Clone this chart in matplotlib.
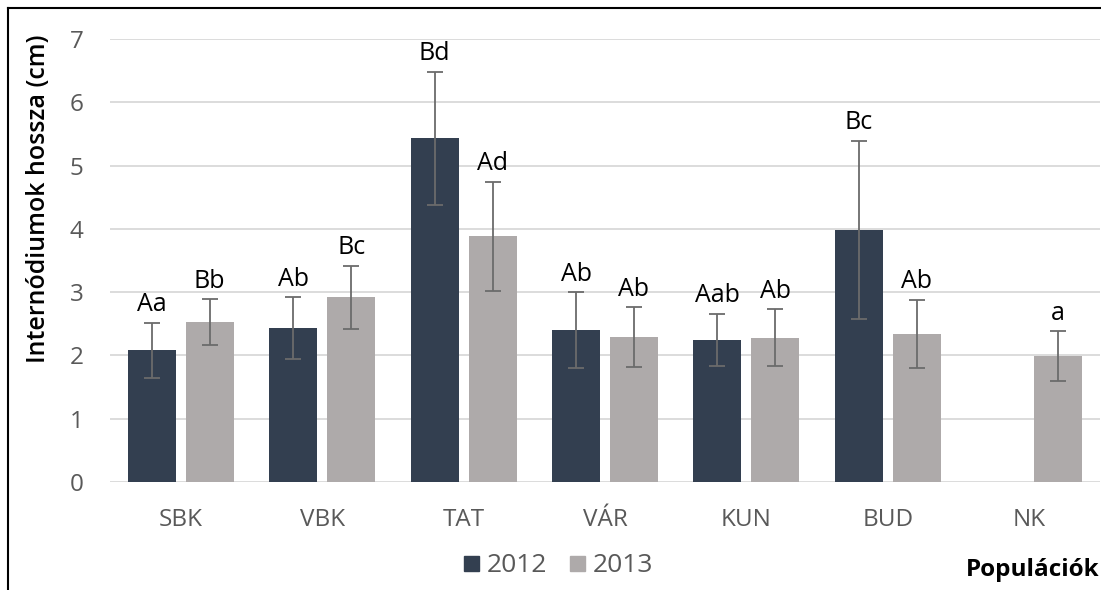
import numpy as np
import matplotlib.pyplot as plt
from matplotlib.lines import Line2D

# Data
populations = ['SBK', 'VBK', 'TAT', 'VÁR', 'KUN', 'BUD', 'NK']
mean_2012 = [2.08, 2.43, 5.43, 2.40, 2.25, 3.98, np.nan]
err_2012 = [0.44, 0.49, 1.05, 0.60, 0.41, 1.41, np.nan]
label_2012 = ['Aa', 'Ab', 'Bd', 'Ab', 'Aab', 'Bc', '']
mean_2013 = [2.53, 2.92, 3.88, 2.29, 2.28, 2.34, 1.99]
err_2013 = [0.36, 0.50, 0.86, 0.47, 0.45, 0.54, 0.39]
label_2013 = ['Bb', 'Bc', 'Ad', 'Ab', 'Ab', 'Ab', 'a']

C2012 = '#333f50'
C2013 = '#aeaaaa'
FONT = 'Open Sans'

plt.rcParams['font.family'] = [FONT, 'DejaVu Sans']

fig = plt.figure(figsize=(11.01, 5.9), dpi=100)
ax = fig.add_axes([110 / 1101, 1 - 482 / 590, 990 / 1101, (482 - 39) / 590])

x = np.arange(len(populations))
w = 0.34
off = 0.205

err_kw = dict(ecolor='#6b6b6b', elinewidth=1.3, capsize=5.5, capthick=1.3)
ax.bar(x - off, mean_2012, w, color=C2012, yerr=err_2012, error_kw=err_kw, zorder=3)
ax.bar(x + off, mean_2013, w, color=C2013, yerr=err_2013, error_kw=err_kw, zorder=3)

# letter labels above the error bars
for xi, m, e, t in zip(x - off, mean_2012, err_2012, label_2012):
    if t:
        ax.annotate(t, (xi, m + e), xytext=(0, 4), textcoords='offset points',
                    ha='center', va='bottom', fontsize=18, color='black')
for xi, m, e, t in zip(x + off, mean_2013, err_2013, label_2013):
    if t:
        ax.annotate(t, (xi, m + e), xytext=(0, 4), textcoords='offset points',
                    ha='center', va='bottom', fontsize=18, color='black')

ax.set_xlim(-0.5, len(populations) - 0.5)
ax.set_ylim(0, 7)
ax.set_yticks(range(8))
ax.set_xticks(x)
ax.set_xticklabels(populations)
ax.tick_params(axis='both', length=0, labelsize=17.5, colors='#595959')
ax.tick_params(axis='x', pad=19)
ax.tick_params(axis='y', pad=19)
ax.grid(axis='y', color='#d9d9d9', linewidth=1.3, zorder=0)
for s in ax.spines.values():
    s.set_visible(False)

fig.text(39 / 1101, 1 - 199 / 590, 'Internódiumok hossza (cm)', rotation=90,
         ha='center', va='center', fontsize=18, fontweight='semibold', color='black')

handles = [Line2D([], [], marker='s', linestyle='none', markersize=10.8, color=C2012),
           Line2D([], [], marker='s', linestyle='none', markersize=10.8, color=C2013)]
leg = fig.legend(handles, ['2012', '2013'], loc='center', bbox_to_anchor=(558 / 1101, 1 - 566 / 590),
                 ncol=2, frameon=False, fontsize=19, handletextpad=0.3, columnspacing=0.8,
                 handlelength=0.6, borderpad=0)
for t in leg.get_texts():
    t.set_color('#595959')

fig.text(1100 / 1101, 1 - 570 / 590, 'Populációk', ha='right', va='center',
         fontsize=17.5, fontweight='bold', color='black')

# outer frame (left and top edges visible)
fig.add_artist(Line2D([8 / 1101, 8 / 1101], [0, 1 - 8 / 590], transform=fig.transFigure,
                      color='black', linewidth=1.5))
fig.add_artist(Line2D([8 / 1101, 1], [1 - 8 / 590, 1 - 8 / 590], transform=fig.transFigure,
                      color='black', linewidth=1.5))

fig.savefig('out.png', dpi=100)
